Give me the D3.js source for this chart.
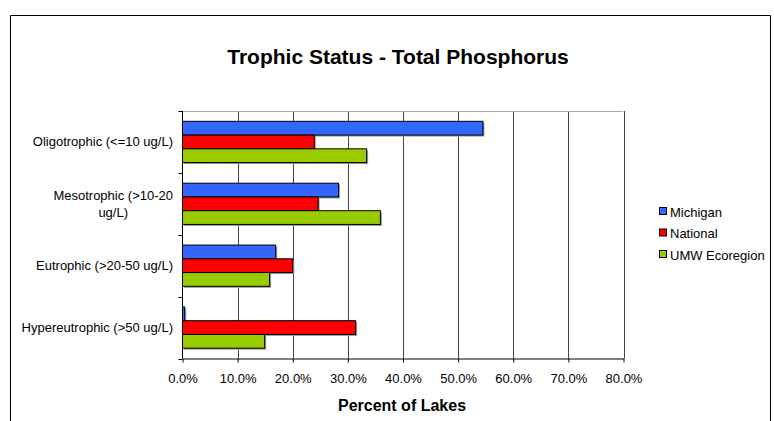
<!DOCTYPE html>
<html>
<head>
<meta charset="utf-8">
<script src="https://cdn.jsdelivr.net/npm/d3@7"></script>
<style>
  body { margin: 0; background: #fff; }
  text { font-family: "Liberation Sans", Arial, sans-serif; fill: #000; }
</style>
</head>
<body>
<script>
// chart data
const categories = ["Oligotrophic (<=10 ug/L)", "Mesotrophic (>10-20 ug/L)", "Eutrophic (>20-50 ug/L)", "Hypereutrophic (>50 ug/L)"];
const catLines = [["Oligotrophic (<=10 ug/L)"], ["Mesotrophic (>10-20", "ug/L)"], ["Eutrophic (>20-50 ug/L)"], ["Hypereutrophic (>50 ug/L)"]];
const seriesNames = ["Michigan", "National", "UMW Ecoregion"];
const michigan = [0.545, 0.283, 0.169, 0.004];
const national = [0.239, 0.246, 0.200, 0.314];
const umw = [0.334, 0.359, 0.158, 0.149];
const xTicks = [0, 0.1, 0.2, 0.3, 0.4, 0.5, 0.6, 0.7, 0.8];
const colors = ["#3366FF", "#FF0000", "#99CC00"];

const W = 774, H = 421;
const svg = d3.select("body").append("svg")
    .attr("width", W)
    .attr("height", H);

// outer frame (bottom runs off the picture)
svg.append("path")
    .attr("d", "M10.5,440 V15.5 H770.5 V440")
    .attr("fill", "none")
    .attr("stroke", "#000");

const plot = {left: 182.5, right: 623.5, top: 111, bottom: 358.5};

let x = d3.scaleLinear().domain([0, 0.8]).range([plot.left, plot.right]);
let y = d3.scaleBand().domain(categories).range([plot.top, plot.bottom]);

let sub = d3.scaleBand().domain(seriesNames)
    .range([0, y.bandwidth()])
    .paddingInner(0)
    .paddingOuter(0.75);

// title
svg.append("text")
    .attr("x", 398).attr("y", 64)
    .attr("text-anchor", "middle")
    .style("font-size", "21px")
    .style("font-weight", "bold")
    .text("Trophic Status - Total Phosphorus");

// gridlines
svg.append("g").selectAll("line")
    .data(xTicks.slice(1))
    .enter().append("line")
    .attr("x1", d => Math.round(x(d)) + 0.5).attr("x2", d => Math.round(x(d)) + 0.5)
    .attr("y1", plot.top).attr("y2", plot.bottom)
    .attr("stroke", "#444");
svg.append("line")
    .attr("x1", plot.left).attr("x2", plot.right)
    .attr("y1", plot.top + 0.5).attr("y2", plot.top + 0.5)
    .attr("stroke", "#aaa");

// bars
let table = categories.map((c, i) => [michigan[i], national[i], umw[i]]);
let groups = svg.append("g").selectAll("g")
    .data(table)
    .enter().append("g")
    .attr("transform", (d, i) => "translate(0," + y(categories[i]) + ")");

// shadows
groups.selectAll("rect.shadow")
    .data(d => d)
    .enter().append("rect")
    .attr("class", "shadow")
    .attr("x", x(0) + 1.5)
    .attr("y", (d, j) => sub(seriesNames[j]) + 1.5)
    .attr("width", d => x(d) - x(0))
    .attr("height", sub.bandwidth())
    .attr("fill", "#999");

groups.selectAll("rect.bar")
    .data(d => d)
    .enter().append("rect")
    .attr("class", "bar")
    .attr("x", x(0))
    .attr("y", (d, j) => sub(seriesNames[j]))
    .attr("width", d => x(d) - x(0))
    .attr("height", sub.bandwidth())
    .attr("fill", (d, j) => colors[j])
    .attr("stroke", "#000")
    .attr("stroke-width", 1);

// x axis
let xAxis = svg.append("g")
    .attr("transform", "translate(0," + plot.bottom + ")")
    .call(d3.axisBottom(x).tickValues(xTicks).tickFormat(d3.format(".1%")).tickSize(4).tickSizeOuter(0));
xAxis.select(".domain").attr("stroke", "#000");
xAxis.selectAll("text")
    .attr("dy", "0")
    .attr("y", 24)
    .style("font-size", "13px")
    .style("font-family", "Liberation Sans, Arial, sans-serif");

// y axis (ticks between categories)
svg.append("line")
    .attr("x1", plot.left).attr("x2", plot.left)
    .attr("y1", plot.top).attr("y2", plot.bottom)
    .attr("stroke", "#000");
let bounds = categories.map(c => y(c)).concat([plot.bottom]);
svg.append("g").selectAll("line")
    .data(bounds)
    .enter().append("line")
    .attr("x1", plot.left - 4).attr("x2", plot.left)
    .attr("y1", d => Math.round(d) + 0.5).attr("y2", d => Math.round(d) + 0.5)
    .attr("stroke", "#000");

// category labels
svg.append("g").selectAll("text")
    .data(catLines)
    .enter().append("text")
    .attr("transform", (d, i) => "translate(173," + (y(categories[i]) + y.bandwidth() / 2) + ")")
    .attr("text-anchor", "end")
    .style("font-size", "13px")
    .each(function(lines) {
        let t = d3.select(this);
        let n = lines.length;
        lines.forEach((l, k) => {
            t.append("tspan")
                .attr("x", 0)
                .attr("y", (k - (n - 1) / 2) * 16.7 + 4.5)
                .text(l);
        });
        // centre wrapped lines under each other
        if (n > 1) {
            let ws = [];
            t.selectAll("tspan").each(function() { ws.push(this.getComputedTextLength()); });
            let widest = d3.max(ws);
            t.selectAll("tspan").attr("x", (l, k) => -(widest - ws[k]) / 2);
        }
    });

// axis title
svg.append("text")
    .attr("x", 402).attr("y", 411)
    .attr("text-anchor", "middle")
    .style("font-size", "16px")
    .style("font-weight", "bold")
    .text("Percent of Lakes");

// legend
let legend = svg.append("g").selectAll("g")
    .data(seriesNames)
    .enter().append("g")
    .attr("transform", (d, i) => "translate(659," + (207 + i * 21.5) + ")");
legend.append("rect")
    .attr("x", 0.5).attr("y", 0.5)
    .attr("width", 7).attr("height", 7)
    .attr("fill", (d, i) => colors[i])
    .attr("stroke", "#000");
legend.append("text")
    .attr("x", 11).attr("y", 9.5)
    .style("font-size", "13px")
    .text(d => d);
</script>
</body>
</html>
